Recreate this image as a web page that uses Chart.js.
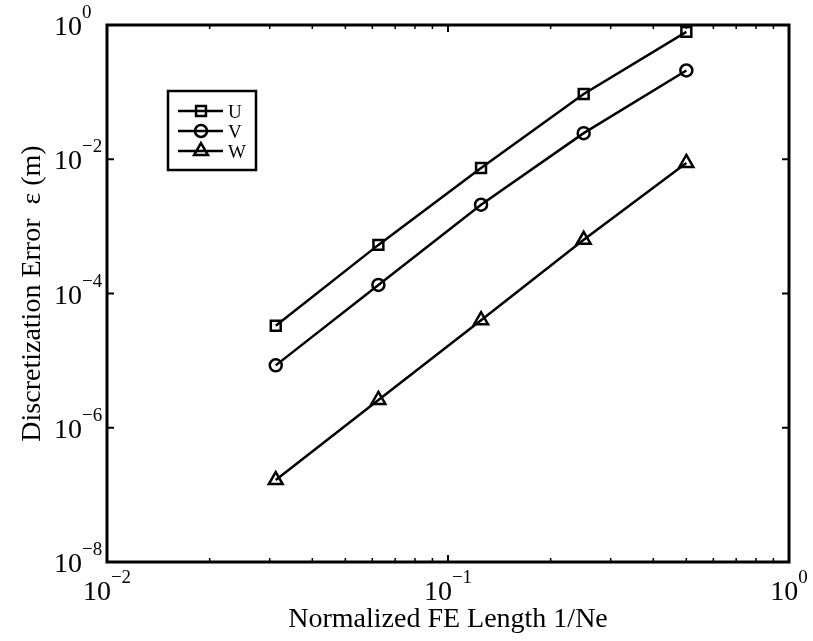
<!DOCTYPE html>
<html>
<head>
<meta charset="utf-8">
<script src="https://cdn.jsdelivr.net/npm/chart.js@4/dist/chart.umd.min.js"></script>
<style>
  html, body { margin: 0; padding: 0; background: #fff; }
  #grafico { display: block; }
</style>
</head>
<body>
<canvas id="grafico" width="813" height="641"></canvas>
<script>
// dados
const tamanhos = [0.03125, 0.0625, 0.125, 0.25, 0.5]
const erroU = [3.3e-5, 5.3e-4, 7.4e-3, 9.4e-2, 0.79]
const erroV = [8.5e-6, 1.34e-4, 2.1e-3, 2.45e-2, 0.21]
const erroW = [1.66e-7, 2.6e-6, 4.0e-5, 6.3e-4, 8.8e-3]
const nomes = ["U", "V", "W"]
const marcadores = ["rect", "circle", "triangle"]
const raios = [7, 6, 8]
const ticksX = [0.01, 0.1, 1]
const expX = ["\u22122", "\u22121", "0"]
const ticksY = [1, 1e-2, 1e-4, 1e-6, 1e-8]
const expY = ["0", "\u22122", "\u22124", "\u22126", "\u22128"]
const tituloX = "Normalized FE Length 1/Ne"
const tituloY = "Discretization Error  \u03b5 (m)"

const fonte = "Liberation Serif, Times New Roman, serif"

function pontos(valores) {
    return tamanhos.map((x, i) => ({ x: x, y: valores[i] }))
}

let series = [erroU, erroV, erroW].map((valores, i) => ({
    label: nomes[i],
    data: pontos(valores),
    borderColor: "#000",
    borderWidth: 2.5,
    pointStyle: marcadores[i],
    pointRadius: raios[i],
    pointBorderWidth: 2.5,
    pointBorderColor: "#000",
    pointBackgroundColor: "rgba(0,0,0,0)",
    showLine: true,
    fill: false,
    tension: 0
}))

// desenha moldura, ticks, rotulos e legenda
const eixos = {
    id: "eixos",
    afterDraw(chart) {
        let ctx = chart.ctx
        let a = chart.chartArea
        let sx = chart.scales.x
        let sy = chart.scales.y
        ctx.save()
        ctx.strokeStyle = "#000"
        ctx.fillStyle = "#000"

        // ticks menores do eixo x
        ctx.lineWidth = 1.5
        for (let d of [0.01, 0.1]) {
            for (let k = 2; k <= 9; k++) {
                let px = sx.getPixelForValue(d * k)
                ctx.beginPath()
                ctx.moveTo(px, a.bottom); ctx.lineTo(px, a.bottom - 4)
                ctx.moveTo(px, a.top); ctx.lineTo(px, a.top + 4)
                ctx.stroke()
            }
        }
        // ticks maiores
        ctx.lineWidth = 2
        for (let v of ticksX) {
            let px = sx.getPixelForValue(v)
            ctx.beginPath()
            ctx.moveTo(px, a.bottom); ctx.lineTo(px, a.bottom - 7)
            ctx.moveTo(px, a.top); ctx.lineTo(px, a.top + 7)
            ctx.stroke()
        }
        for (let v of ticksY) {
            let py = sy.getPixelForValue(v)
            ctx.beginPath()
            ctx.moveTo(a.left, py); ctx.lineTo(a.left + 7, py)
            ctx.moveTo(a.right, py); ctx.lineTo(a.right - 7, py)
            ctx.stroke()
        }

        // moldura
        ctx.lineWidth = 3
        ctx.strokeRect(a.left, a.top, a.right - a.left, a.bottom - a.top)

        // rotulos do eixo y (10 com expoente)
        for (let i in ticksY) {
            let py = sy.getPixelForValue(ticksY[i])
            ctx.font = "28px " + fonte
            ctx.textAlign = "right"
            ctx.textBaseline = "alphabetic"
            ctx.fillText("10", 82, py + 10)
            ctx.font = "19px " + fonte
            ctx.textAlign = "left"
            ctx.fillText(expY[i], 82, py - 7)
        }
        // rotulos do eixo x
        for (let i in ticksX) {
            let px = sx.getPixelForValue(ticksX[i])
            ctx.font = "28px " + fonte
            let w1 = ctx.measureText("10").width
            ctx.font = "19px " + fonte
            let w2 = ctx.measureText(expX[i]).width
            let x0 = px - (w1 + w2) / 2
            ctx.textAlign = "left"
            ctx.textBaseline = "alphabetic"
            ctx.font = "28px " + fonte
            ctx.fillText("10", x0, a.bottom + 38)
            ctx.font = "19px " + fonte
            ctx.fillText(expX[i], x0 + w1, a.bottom + 21)
        }

        // titulos
        ctx.font = "28px " + fonte
        ctx.textAlign = "center"
        ctx.fillText(tituloX, (a.left + a.right) / 2, 627)
        ctx.save()
        ctx.translate(40, (a.top + a.bottom) / 2)
        ctx.rotate(-Math.PI / 2)
        ctx.fillText(tituloY, 0, 0)
        ctx.restore()

        // legenda
        ctx.fillStyle = "#fff"
        ctx.fillRect(168, 91, 88, 79)
        ctx.lineWidth = 2.5
        ctx.strokeRect(168, 91, 88, 79)
        ctx.font = "19px " + fonte
        ctx.textAlign = "left"
        for (let i = 0; i < nomes.length; i++) {
            let yy = 111 + i * 20
            ctx.lineWidth = 2.5
            ctx.beginPath()
            ctx.moveTo(178, yy); ctx.lineTo(223, yy)
            ctx.stroke()
            // marcador vazado
            ctx.fillStyle = "rgba(0,0,0,0)"
            Chart.helpers.drawPoint(ctx, {
                pointStyle: marcadores[i],
                radius: raios[i],
                borderWidth: 2.5,
                rotation: 0
            }, 201, yy)
            ctx.fillStyle = "#000"
            ctx.fillText(nomes[i], 228, yy + 7)
        }
        ctx.restore()
    }
}

new Chart(document.getElementById("grafico"), {
    type: "scatter",
    data: { datasets: series },
    options: {
        responsive: false,
        animation: false,
        layout: { padding: { left: 107, top: 25, right: 24, bottom: 79 } },
        plugins: {
            legend: { display: false },
            tooltip: { enabled: false }
        },
        scales: {
            x: { type: "logarithmic", min: 0.01, max: 1, display: false },
            y: { type: "logarithmic", min: 1e-8, max: 1, display: false }
        }
    },
    plugins: [eixos]
})
</script>
</body>
</html>
